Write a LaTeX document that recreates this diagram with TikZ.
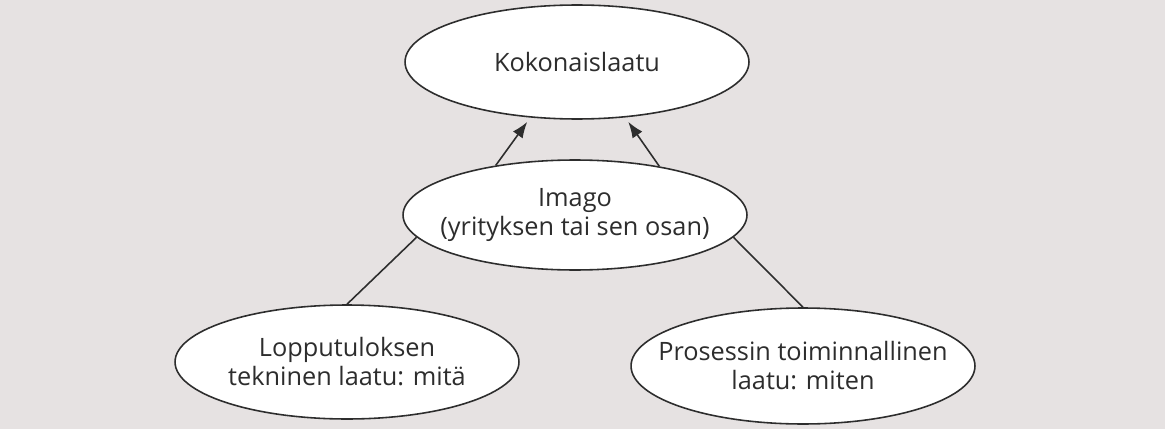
\documentclass[tikz,border=0pt]{standalone}
\usepackage{fontspec}
\setmainfont{Open Sans}
\usetikzlibrary{arrows.meta, shapes.geometric}

\definecolor{paper}{RGB}{230,226,226}
\definecolor{ink}{RGB}{45,45,45}

\begin{document}
\begin{tikzpicture}[
    x=0.02cm, y=-0.02cm,
    arrow/.style={-{Latex[length=3.2mm, width=2.4mm]}, line width=0.9pt, draw=ink, shorten >=3pt},
    link/.style={line width=0.9pt, draw=ink},
    oval/.style={
        ellipse,
        minimum width=6.88cm,
        minimum height=2.28cm,
        inner xsep=-0.8cm,
        align=center,
        font=\fontsize{14.4}{16.5}\selectfont,
        text=ink,
        draw=ink,
        fill=white,
        line width=0.9pt
    }
]

% background
\fill[paper] (0,0) rectangle (1165,429);
\useasboundingbox (0,0) rectangle (1165,429);

\node[oval] (total) at (577,62) {Kokonaislaatu};

\node[oval, minimum height=2.2cm] (imago) at (575,215) {
    Imago\\
    (yrityksen tai sen osan)
};

\node[oval] (result) at (347,362) {
    Lopputuloksen\\
    tekninen laatu: mitä
};

\node[oval, minimum height=2.32cm] (process) at (803,366) {
    Prosessin toiminnallinen\\
    laatu: miten
};

\draw[arrow] (imago.148) -- (total.230);
\draw[arrow] (imago.30) -- (total.-49);
\draw[link] (result.north) -- (imago.188);
\draw[link] (process.north) -- (imago.-8);

\end{tikzpicture}
\end{document}
